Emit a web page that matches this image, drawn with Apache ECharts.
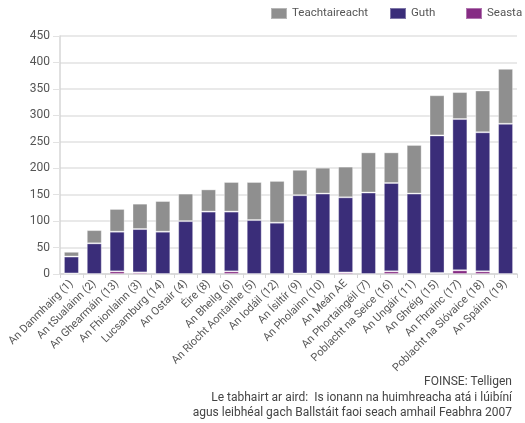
<!DOCTYPE html>
<html>
<head>
<meta charset="utf-8">
<script src="https://cdn.jsdelivr.net/npm/echarts@6/dist/echarts.min.js"></script>
<style>
  html, body { margin: 0; padding: 0; background: #fff; }
  #chart { width: 525px; height: 423px; }
</style>
</head>
<body>
<div id="chart"></div>
<script>
// catagóirí (na Ballstáit)
const categories = [
  'An Danmhairg (1)', 'An tSualainn (2)', 'An Ghearmáin (13)', 'An Fhionlainn (3)',
  'Lucsamburg (14)', 'An Ostair (4)', 'Éire (8)', 'An Bheilg (6)',
  'An Ríocht Aontaithe (5)', 'An Iodáil (12)', 'An Ísiltír (9)', 'An Pholainn (10)',
  'An Meán AE', 'An Phortaingéil (7)', 'Poblacht na Seice (16)', 'An Ungáir (11)',
  'An Ghréig (15)', 'An Fhrainc (17)', 'Poblacht na Slóvaice (18)', 'An Spáinn (19)'
]
// sraitheanna
const seasta = [1, 0, 5, 3, 0, 0, 0, 5, 0, 0, 1, 0, 3, 0, 5, 0, 2, 7, 5, 0]
const guth = [32, 58, 75, 82, 80, 100, 118, 113, 102, 97, 148, 152, 142, 154, 167, 152, 260, 286, 263, 284]
const teachtaireacht = [9, 25, 43, 48, 58, 52, 42, 56, 72, 79, 48, 49, 58, 76, 58, 92, 76, 51, 79, 104]
const yTicks = { min: 0, max: 450, interval: 50 }

const textColor = '#555'
const font = 'Roboto, "Open Sans", sans-serif'

const chart = echarts.init(document.getElementById('chart'))

const barStyle = function (color) {
  return {
    color: color,
    borderColor: 'rgba(255,255,255,0.35)',
    borderWidth: 1
  }
}

// ceann fógartha do gach sraith, suite ar leith
const legendItem = function (name, left) {
  return {
    data: [name],
    left: left,
    top: 7,
    padding: 0,
    itemWidth: 16,
    itemHeight: 11,
    icon: 'rect',
    textStyle: { color: textColor, fontSize: 11.5, fontFamily: font }
  }
}

const option = {
  animation: false,
  textStyle: { fontFamily: font },
  legend: [
    legendItem('Teachtaireacht', 270),
    legendItem('Guth', 389),
    legendItem('Seasta', 465)
  ],
  grid: {
    left: 60,
    right: 8,
    top: 36,
    bottom: 423 - 274,
    containLabel: false
  },
  xAxis: {
    type: 'category',
    data: categories,
    axisLine: { show: true, lineStyle: { color: '#d6d6d6', width: 1.5 } },
    axisTick: { show: true, alignWithLabel: false, length: 4, lineStyle: { color: '#d6d6d6' } },
    axisLabel: {
      interval: 0,
      rotate: 45,
      margin: 8,
      color: textColor,
      fontSize: 11,
      fontFamily: font
    }
  },
  yAxis: {
    type: 'value',
    min: yTicks.min,
    max: yTicks.max,
    interval: yTicks.interval,
    axisLine: { show: true, lineStyle: { color: '#d6d6d6', width: 1.5 } },
    axisTick: { show: true, length: 7, lineStyle: { color: '#e2e2e2' } },
    axisLabel: { color: textColor, fontSize: 12, margin: 10, fontFamily: font },
    splitLine: { show: true, lineStyle: { color: '#e2e2e2', width: 1.5 } }
  },
  series: [
    {
      name: 'Seasta',
      type: 'bar',
      stack: 'iomlan',
      barWidth: 15,
      itemStyle: barStyle('#862c84'),
      data: seasta
    },
    {
      name: 'Guth',
      type: 'bar',
      stack: 'iomlan',
      barWidth: 15,
      itemStyle: barStyle('#3a2d79'),
      data: guth
    },
    {
      name: 'Teachtaireacht',
      type: 'bar',
      stack: 'iomlan',
      barWidth: 15,
      itemStyle: barStyle('#8f8f8f'),
      data: teachtaireacht
    }
  ],
  graphic: [
    {
      type: 'text',
      right: 13,
      top: 376,
      style: { text: 'FOINSE: Telligen', fill: '#444', font: '12px ' + font, textAlign: 'right' }
    },
    {
      type: 'text',
      right: 13,
      top: 392,
      style: { text: 'Le tabhairt ar aird:  Is ionann na huimhreacha atá i lúibíní', fill: '#444', font: '12px ' + font, textAlign: 'right' }
    },
    {
      type: 'text',
      right: 13,
      top: 407,
      style: { text: 'agus leibhéal gach Ballstáit faoi seach amhail Feabhra 2007', fill: '#444', font: '12px ' + font, textAlign: 'right' }
    }
  ]
}

chart.setOption(option)
</script>
</body>
</html>
